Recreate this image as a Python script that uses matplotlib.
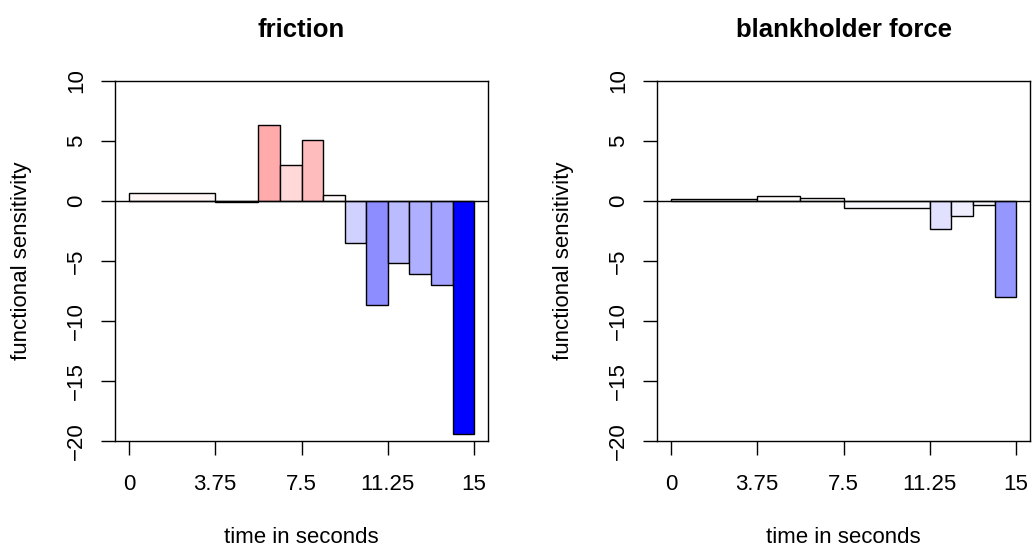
import numpy as np
import matplotlib
matplotlib.use("Agg")
import matplotlib.pyplot as plt

plt.rcParams['font.family'] = ['Liberation Sans', 'DejaVu Sans']

# interval edges (seconds) and sensitivity per interval
friction_breaks = [0, 3.75, 5.625, 6.5625, 7.5, 8.4375, 9.375, 10.3125, 11.25, 12.1875, 13.125, 14.0625, 15]
friction_vals = [0.67, -0.12, 6.36, 3.0, 5.11, 0.47, -3.53, -8.69, -5.14, -6.08, -6.97, -19.39]

bhf_breaks = [0, 3.75, 5.625, 7.5, 11.25, 12.1875, 13.125, 14.0625, 15]
bhf_vals = [0.14, 0.39, 0.28, -0.56, -2.31, -1.28, -0.33, -8.0]

titles = ["friction", "blankholder force"]
xticks = [0, 3.75, 7.5, 11.25, 15]
xtick_labels = ["0", "3.75", "7.5", "11.25", "15"]
yticks = [-20, -15, -10, -5, 0, 5, 10]
ytick_labels = ["\u221220", "\u221215", "\u221210", "\u22125", "0", "5", "10"]

vmax = max(np.abs(friction_vals).max(), np.abs(bhf_vals).max())


def colour(v):
    a = abs(v) / vmax
    if v >= 0:
        return (1, 1 - a, 1 - a)
    return (1 - a, 1 - a, 1)


W, H = 1032, 547
fig = plt.figure(figsize=(W / 100, H / 100), dpi=100)
fs = 16
lw = 1.0

panels = [(friction_breaks, friction_vals, 115), (bhf_breaks, bhf_vals, 657)]
for i, (breaks, vals, left_px) in enumerate(panels):
    ax = fig.add_axes([left_px / W, (H - 441) / H, 373 / W, 360 / H])
    b = np.array(breaks)
    ax.bar(b[:-1], vals, width=np.diff(b), align='edge',
           color=[colour(v) for v in vals], edgecolor='black', linewidth=lw)
    ax.axhline(0, color='black', linewidth=lw)
    ax.set_xlim(-0.6, 15.6)
    ax.set_ylim(-20, 10)
    ax.set_xticks(xticks)
    ax.set_xticklabels(xtick_labels, fontsize=fs)
    ax.set_yticks(yticks)
    ax.set_yticklabels(ytick_labels, fontsize=fs, rotation=90, va='center')
    ax.tick_params(axis='x', length=10, width=lw, pad=14)
    ax.tick_params(axis='y', length=10, width=lw, pad=10)
    for s in ax.spines.values():
        s.set_linewidth(lw)
    ax.set_title(titles[i], fontsize=18.5, fontweight='bold', pad=32)
    cx = (left_px + 373 / 2) / W
    fig.text(cx, 1 - 543 / H, "time in seconds", fontsize=fs, ha='center', va='baseline')
    fig.text((left_px - 93) / W, 1 - 261 / H, "functional sensitivity", fontsize=fs,
             rotation=90, ha='center', va='center')

fig.savefig("out.png", dpi=100)
plt.close(fig)
